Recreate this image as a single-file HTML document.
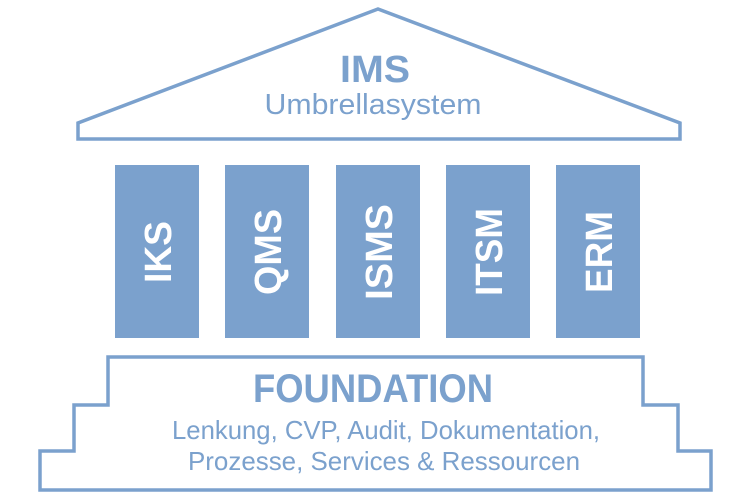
<!DOCTYPE html>
<html><head><meta charset="utf-8"><style>
html,body{margin:0;padding:0;background:#fff;width:751px;height:500px;overflow:hidden}
</style></head><body>
<svg width="751" height="500" viewBox="0 0 751 500" xmlns="http://www.w3.org/2000/svg" font-family="'Liberation Sans',sans-serif">
<g fill="none" stroke="#7ba1cd" stroke-width="3.5">
<polygon points="378,9 680,123 680,139 78,139 78,123"/>
<polygon points="108,357 643,357 643,405 678,405 678,451 711,451 711,490 40,490 40,451 74,451 74,405 108,405"/>
</g>
<g fill="#7ba1cd">
<rect x="115" y="165" width="84" height="173"/>
<rect x="225" y="165" width="84" height="173"/>
<rect x="336" y="165" width="84" height="173"/>
<rect x="446" y="165" width="84" height="173"/>
<rect x="556" y="165" width="84" height="173"/>
</g>
<g fill="#fff" font-weight="bold" font-size="38" text-anchor="middle" lengthAdjust="spacingAndGlyphs">
<text transform="translate(171,252) rotate(-90)" textLength="62" lengthAdjust="spacingAndGlyphs">IKS</text>
<text transform="translate(281,252) rotate(-90)" textLength="86" lengthAdjust="spacingAndGlyphs">QMS</text>
<text transform="translate(392,252) rotate(-90)" textLength="96" lengthAdjust="spacingAndGlyphs">ISMS</text>
<text transform="translate(502,252) rotate(-90)" textLength="88" lengthAdjust="spacingAndGlyphs">ITSM</text>
<text transform="translate(612,252) rotate(-90)" textLength="82" lengthAdjust="spacingAndGlyphs">ERM</text>
</g>
<g fill="#7ba1cd" text-anchor="middle">
<text x="375" y="82" font-size="38" font-weight="bold" textLength="70" lengthAdjust="spacingAndGlyphs">IMS</text>
<text x="373" y="114" font-size="29" textLength="217" lengthAdjust="spacingAndGlyphs">Umbrellasystem</text>
<text x="373" y="402" font-size="40" font-weight="bold" textLength="240" lengthAdjust="spacingAndGlyphs">FOUNDATION</text>
<text x="386" y="439" font-size="26" textLength="428" lengthAdjust="spacingAndGlyphs">Lenkung, CVP, Audit, Dokumentation,</text>
<text x="384" y="470" font-size="26" textLength="392" lengthAdjust="spacingAndGlyphs">Prozesse, Services &amp; Ressourcen</text>
</g>
</svg>
</body></html>
